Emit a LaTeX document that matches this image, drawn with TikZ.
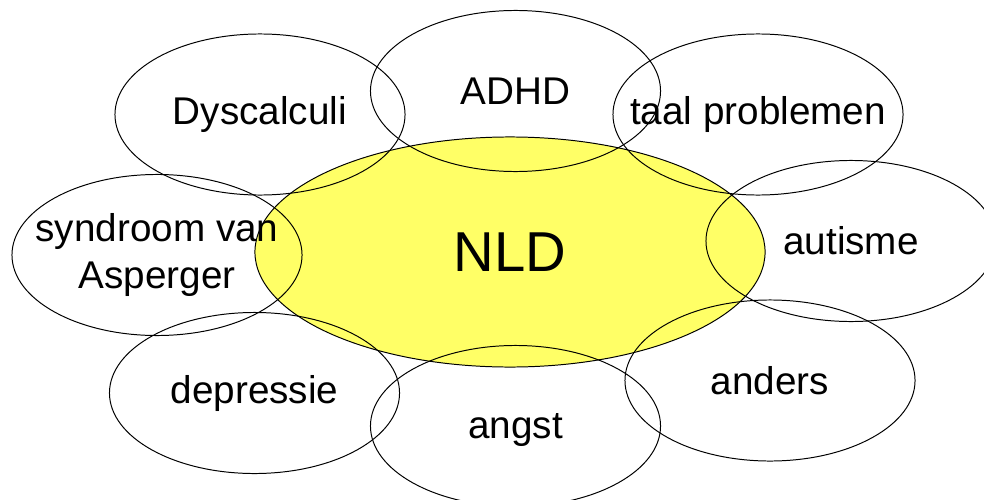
\documentclass[tikz,border=0pt]{standalone}
\usepackage{fontspec}
\setmainfont{Liberation Sans}
\usetikzlibrary{shapes.geometric}
\definecolor{nldyellow}{HTML}{FFFF66}

\begin{document}
\begin{tikzpicture}[x=0.025cm,y=-0.025cm,font=\fontsize{27.5}{34}\selectfont]
		% Styles for the ellipses
		\tikzset{bubble/.style={ellipse, draw, line width=0.7pt, minimum width=7.25cm, minimum height=4.025cm, inner sep=0pt}}
		\tikzset{core/.style={bubble, fill=nldyellow, minimum width=12.75cm, minimum height=5.75cm, font=\fontsize{40}{48}\selectfont}}
		
		% Fix the size of the picture
		\useasboundingbox (0,0) rectangle (984,499);
		
		% Central ellipse first, so the others lie over it
		\node[core] (nld) at (510,252) {NLD};
		
		% Top row
		\node[bubble, label=center:Dyscalculi] (dyscalculi) at (260,114.5) {};
		\node[bubble, label=center:ADHD] (adhd) at (515.5,91) {};
		\node[bubble, label=center:taal problemen] (taal) at (758,114.5) {};
		
		% Middle row
		\node[bubble, label={[align=center]center:syndroom van\\Asperger}] (asperger) at (157,255) {};
		\node[bubble, label=center:autisme] (autisme) at (851,241) {};
		
		% Bottom row
		\node[bubble, label=center:depressie] (depressie) at (254.5,393) {};
		\node[bubble, label={[yshift=-3pt]center:angst}] (angst) at (515.5,426) {};
		\node[bubble, label=center:anders] (anders) at (770,380.5) {};
	\end{tikzpicture}
\end{document}
